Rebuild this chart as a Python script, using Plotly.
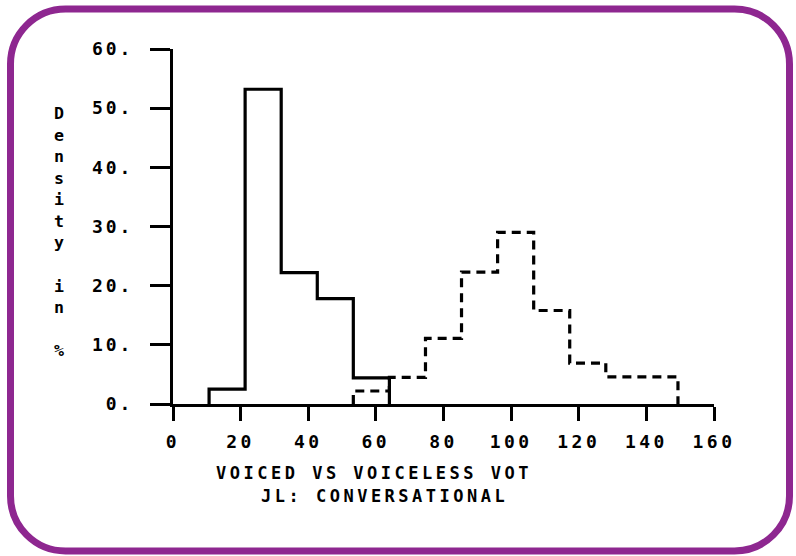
import plotly.graph_objects as go

# ---- data ----
voiced_bin_starts = [10.67, 21.33, 32.0, 42.67, 53.33]
voiced_heights = [2.5, 53.2, 22.2, 17.8, 4.4]
voiceless_bin_starts = [53.33, 64.0, 74.67, 85.33, 96.0, 106.67, 117.33, 128.0, 138.67]
voiceless_heights = [2.2, 4.5, 11.1, 22.3, 29.0, 15.8, 6.9, 4.6, 4.6]
bin_width = 10.67

x_tickvals = [0, 20, 40, 60, 80, 100, 120, 140, 160]
x_ticktext = ["0", "20", "40", "60", "80", "100", "120", "140", "160"]
y_tickvals = [0, 10, 20, 30, 40, 50, 60]
y_ticktext = ["0.", "10.", "20.", "30.", "40.", "50.", "60."]

title_line1 = "VOICED VS VOICELESS VOT"
title_line2 = "JL: CONVERSATIONAL"
y_title_letters = ["D", "e", "n", "s", "i", "t", "y", "", "i", "n", "", "%"]


def step_xy(starts, heights, width):
    xs = [starts[0]]
    ys = [0]
    for s, h in zip(starts, heights):
        xs.append(s)
        ys.append(h)
    end = starts[-1] + width
    xs += [end, end]
    ys += [heights[-1], 0]
    return xs, ys


FONT = "DejaVu Sans Mono"

W, H = 796, 556
ML, MR, MT, MB = 173, 82, 49, 152
PW, PH = W - ML - MR, H - MT - MB

fig = go.Figure()
vx, vy = step_xy(voiced_bin_starts, voiced_heights, bin_width)
fig.add_trace(go.Scatter(x=vx, y=vy, mode="lines", line=dict(color="black", width=3.2, shape="hv"),
                         name="voiced", hoverinfo="skip"))
ux, uy = step_xy(voiceless_bin_starts, voiceless_heights, bin_width)
fig.add_trace(go.Scatter(x=ux, y=uy, mode="lines",
                         line=dict(color="black", width=3.2, shape="hv", dash="9px,6px"),
                         name="voiceless", hoverinfo="skip"))


def sp(t, ls):
    return '<span style="letter-spacing:%spx">%s</span>' % (ls, t)


fig.update_xaxes(range=[0, 160], showline=True, linecolor="black", linewidth=3,
                 ticks="outside", ticklen=14, tickwidth=3, tickcolor="black",
                 tickvals=x_tickvals, ticktext=[sp(t, 3.5) for t in x_ticktext],
                 tickfont=dict(family=FONT, size=18, color="black", weight="bold"),
                 ticklabelstandoff=5, showgrid=False, zeroline=False)
fig.update_yaxes(range=[0, 60], showline=True, linecolor="black", linewidth=3,
                 ticks="outside", ticklen=20, tickwidth=3, tickcolor="black",
                 tickvals=y_tickvals, ticktext=[sp(t, 3) for t in y_ticktext],
                 tickfont=dict(family=FONT, size=18, color="black", weight="bold"),
                 ticklabelstandoff=13, showgrid=False, zeroline=False)


def px_to_paper_x(px):
    return (px - ML) / PW


def px_to_paper_y(py):
    return (H - MB - py) / PH


anns = [
    dict(text=sp(title_line1, 3.5), x=px_to_paper_x(374), y=px_to_paper_y(473)),
    dict(text=sp(title_line2, 3.5), x=px_to_paper_x(384), y=px_to_paper_y(496)),
]
for a in anns:
    fig.add_annotation(xref="paper", yref="paper", xanchor="center", yanchor="middle",
                       showarrow=False, font=dict(family=FONT, size=17, color="black", weight="bold"),
                       **a)
fig.add_annotation(xref="paper", yref="paper", xanchor="center", yanchor="middle",
                   x=px_to_paper_x(59), y=px_to_paper_y(232), showarrow=False,
                   text="<br>".join(y_title_letters),
                   font=dict(family=FONT, size=16.6, color="black", weight="bold"))

# rounded purple frame (pixel coordinates relative to plot-area bottom-left)
L, T, R, B, r = 10.5, 9, 789.5, 551, 55
k = 0.5523 * r


def P(X, Y):
    return "%.2f,%.2f" % (X - ML, (H - MB) - Y)


path = ("M " + P(L + r, T) + " L " + P(R - r, T) +
        " C " + P(R - r + k, T) + " " + P(R, T + r - k) + " " + P(R, T + r) +
        " L " + P(R, B - r) +
        " C " + P(R, B - r + k) + " " + P(R - r + k, B) + " " + P(R - r, B) +
        " L " + P(L + r, B) +
        " C " + P(L + r - k, B) + " " + P(L, B - r + k) + " " + P(L, B - r) +
        " L " + P(L, T + r) +
        " C " + P(L, T + r - k) + " " + P(L + r - k, T) + " " + P(L + r, T) + " Z")
fig.add_shape(type="path", xref="paper", yref="paper", xsizemode="pixel", ysizemode="pixel",
              xanchor=0, yanchor=0, path=path, line=dict(color="#8e2790", width=7),
              fillcolor="rgba(0,0,0,0)", layer="above")

fig.update_layout(width=W, height=H, margin=dict(l=ML, r=MR, t=MT, b=MB, autoexpand=False),
                  paper_bgcolor="white", plot_bgcolor="white", showlegend=False)

fig.write_html("out.html")
